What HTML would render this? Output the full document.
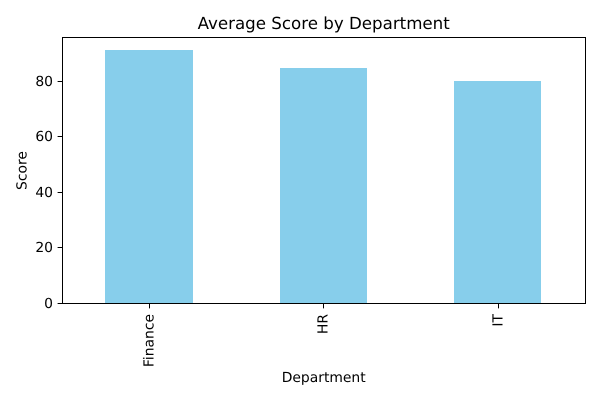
<!DOCTYPE html>
<html>
<head>
<meta charset="utf-8">
<style>
html,body{margin:0;padding:0;background:#fff;width:600px;height:400px;overflow:hidden}
svg{display:block}
text{font-family:"DejaVu Sans",sans-serif;fill:#000;text-rendering:geometricPrecision}
</style>
</head>
<body>
<svg id="chart" width="600" height="400" viewBox="0 0 600 400" xmlns="http://www.w3.org/2000/svg">
<rect width="600" height="400" fill="#fff"/>
<g id="bars"></g>
<g id="x-axis"></g>
<g id="y-axis"></g>
<rect x="62.5" y="37.5" width="523" height="266" fill="none" stroke="#000" stroke-width="1"/>
<text x="323.7" y="29" text-anchor="middle" style="font-size:16.67px">Average Score by Department</text>
<text x="323.7" y="382" text-anchor="middle" style="font-size:13.89px">Department</text>
<text transform="translate(26.5 170.5) rotate(-90)" text-anchor="middle" style="font-size:13.89px">Score</text>
</svg>
<script>
const categories = ['Finance', 'HR', 'IT'];
const scores = [91.3, 84.7, 80];
const yTicks = [0, 20, 40, 60, 80];

const NS = 'http://www.w3.org/2000/svg';
const plotLeft = 62.5, plotWidth = 523, plotTop = 37.5, plotBottom = 303.3;
const yMax = Math.max(...scores) * 1.05;
const barWidth = 0.5;

function xScale(i) {
  return plotLeft + (i + 0.5) / categories.length * plotWidth - 0.7;
}
function yScale(v) {
  return plotBottom - v / yMax * (plotBottom - plotTop);
}
function make(tag, attrs, parent, text) {
  const el = document.createElementNS(NS, tag);
  for (const k in attrs) el.setAttribute(k, attrs[k]);
  if (text !== undefined) el.textContent = text;
  parent.appendChild(el);
  return el;
}

const barsG = document.getElementById('bars');
const xG = document.getElementById('x-axis');
const yG = document.getElementById('y-axis');
const bandPx = plotWidth / categories.length;

categories.forEach(function (cat, i) {
  const w = barWidth * bandPx;
  const left = Math.round(xScale(i) - w / 2);
  const right = Math.round(xScale(i) + w / 2);
  const top = Math.floor(yScale(scores[i]));
  const bar = make('rect', {
    x: left,
    y: top,
    width: right - left,
    height: 303 - top,
    fill: '#87ceeb'
  }, barsG);
  
  

  const cx = Math.round(xScale(i)) + 0.5;
  const tick = make('line', { x1: cx, x2: cx, y1: 303.5, y2: 308.4, stroke: '#000', 'stroke-width': 1 }, xG);
  
  

  const label = make('text', {
    transform: 'translate(' + (cx + 3.8) + ' 314) rotate(-90)',
    'text-anchor': 'end',
    style: 'font-size:13.89px'
  }, xG, cat);
  
  
});

yTicks.forEach(function (v) {
  const y = Math.round(yScale(v) - 0.5) + 0.5;
  const tick = make('line', { x1: plotLeft - 4.9, x2: plotLeft, y1: y, y2: y, stroke: '#000', 'stroke-width': 1 }, yG);
  
  

  const label = make('text', {
    x: plotLeft - 9.5,
    y: y + 4.7,
    'text-anchor': 'end',
    style: 'font-size:13.89px'
  }, yG, String(v));
  
  
});
</script>
</body>
</html>
